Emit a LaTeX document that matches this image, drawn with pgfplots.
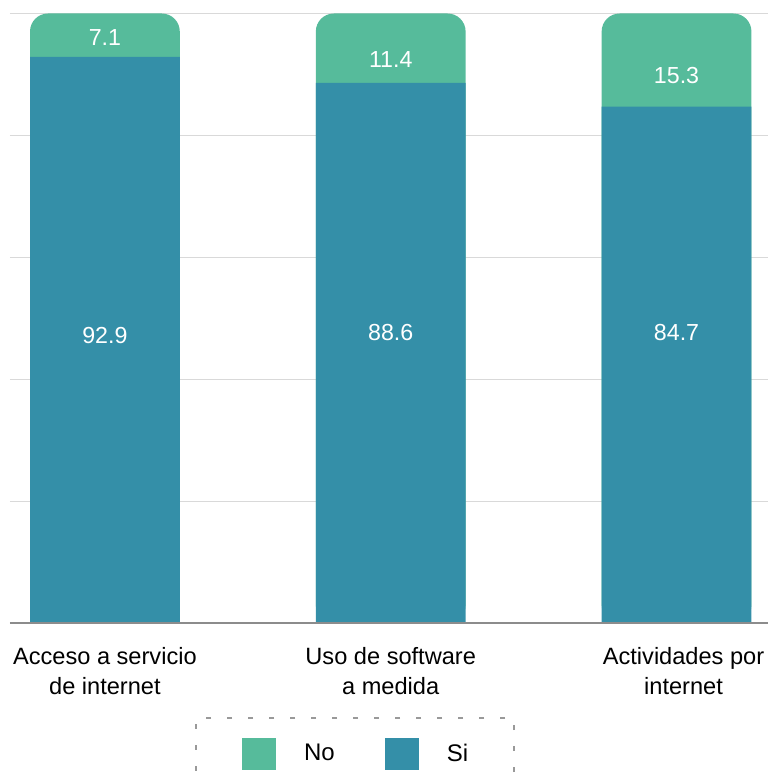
\documentclass[border=0pt]{standalone}
\usepackage{fontspec}
\setmainfont{Liberation Sans}
\usepackage{pgfplots}
\usepackage{pgfplotstable}
\pgfplotsset{compat=1.18}
\definecolor{colNo}{RGB}{86,187,155}
\definecolor{colSi}{RGB}{52,143,168}

% si/no = values, silab/nolab = height where the labels sit
\pgfplotstableread{
x si no silab nolab
0 92.9 7.1 47.2 96.1
1 88.6 11.4 47.6 92.5
2 84.7 15.3 47.6 89.8
}\datatable

\begin{document}
\begin{tikzpicture}
\useasboundingbox (0,0) rectangle (384pt,391pt);
\begin{axis}[
    at={(5pt,79.5pt)}, anchor=south west,
    scale only axis,
    width=379pt, height=304.75pt,
    xmin=-0.332, xmax=2.32,
    ymin=0, ymax=100,
    axis line style={draw=none},
    major tick length=0pt,
    xtick={0,1,2},
    xticklabels={Acceso a servicio\\de internet, Uso de software\\a medida,
        \hspace*{7pt}Actividades por\\\hspace*{7pt}internet},
    xticklabel style={align=center, font=\fontsize{11.8}{15}\selectfont, yshift=-8.5pt},
    ytick={0,20,40,60,80,100},
    yticklabels={},
    ymajorgrids,
    grid style={black!15, line width=0.5pt},
    clip=false,
    legend columns=2,
    legend cell align=left,
    legend style={
        at={(0.244,-0.154)}, anchor=north west,
        draw=black!40, line width=1.2pt, dash pattern=on 2.5pt off 8pt,
        inner xsep=23pt, inner ysep=10pt,
        font=\fontsize{12}{14}\selectfont,
        /tikz/every odd column/.append style={column sep=14pt},
        /tikz/every even column/.append style={column sep=25pt},
        nodes={inner sep=0pt, solid},
    },
    legend image code/.code={\fill[#1, sharp corners, draw=none] (0pt,-8pt) rectangle (17pt,8pt);},
]
% full bar with rounded top, coloured as the "No" part
\addplot[ybar, bar width=0.524, bar shift=0pt, fill=colNo, draw=none, rounded corners=9pt]
    table[x=x, y expr=\thisrow{si}+\thisrow{no}] {\datatable};
\addlegendentry{No}
% "Si" part drawn over it
\addplot[ybar, bar width=0.524, bar shift=0pt, fill=colSi, draw=none]
    table[x=x, y=si] {\datatable};
\addlegendentry{Si}

% value labels
\addplot[draw=none, mark=none, forget plot, nodes near coords, point meta=explicit symbolic,
    every node near coord/.style={anchor=center, text=white, font=\fontsize{11.6}{14}\selectfont}]
    table[x=x, y=nolab, meta=no] {\datatable};
\addplot[draw=none, mark=none, forget plot, nodes near coords, point meta=explicit symbolic,
    every node near coord/.style={anchor=center, text=white, font=\fontsize{11.6}{14}\selectfont}]
    table[x=x, y=silab, meta=si] {\datatable};

\draw[black!45, line width=0.6pt] (rel axis cs:0,0) -- (rel axis cs:1,0);
\end{axis}
\end{tikzpicture}
\end{document}
